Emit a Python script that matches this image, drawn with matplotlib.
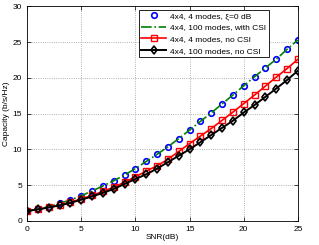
import matplotlib
matplotlib.use("Agg")
import matplotlib.pyplot as plt
import numpy as np

plt.rcParams['font.family'] = ['Liberation Sans', 'DejaVu Sans']

# Datos
snr_db = list(range(0, 26))
cap_4modes_xi0 = [1.35, 1.65, 1.97, 2.45, 2.9, 3.5, 4.17, 4.87, 5.6, 6.4, 7.3, 8.3, 9.3,
                  10.35, 11.5, 12.7, 13.9, 15.1, 16.35, 17.6, 18.9, 20.15, 21.4, 22.6, 24.0, 25.3]
cap_100modes_csi = [1.35, 1.65, 1.97, 2.45, 2.9, 3.5, 4.17, 4.87, 5.6, 6.4, 7.3, 8.3, 9.3,
                    10.35, 11.5, 12.7, 13.9, 15.1, 16.35, 17.6, 18.9, 20.15, 21.4, 22.6, 24.0, 25.3]
cap_4modes_nocsi = [1.35, 1.6, 1.87, 2.2, 2.6, 3.05, 3.55, 4.1, 4.7, 5.4, 6.15, 6.95, 7.7,
                    8.6, 9.7, 10.8, 11.85, 12.9, 14.05, 15.2, 16.4, 17.6, 18.85, 20.1, 21.3, 22.6]
cap_100modes_nocsi = [1.35, 1.6, 1.85, 2.15, 2.5, 2.95, 3.4, 3.9, 4.45, 5.15, 5.85, 6.5, 7.3,
                      8.2, 9.1, 10.0, 11.0, 12.0, 13.0, 14.0, 15.15, 16.2, 17.35, 18.5, 19.7, 21.0]
etiquetas = ["4x4, 4 modes, \u03be=0 dB", "4x4, 100 modes, with CSI",
             "4x4, 4 modes, no CSI", "4x4, 100 modes, no CSI"]

fig = plt.figure(figsize=(3.19, 2.45), dpi=100)
ax = fig.add_axes([0.085, 0.099, 0.849, 0.875])

ax.plot(snr_db, cap_4modes_xi0, linestyle='none', marker='o', markersize=4,
        markerfacecolor='none', markeredgecolor='blue', markeredgewidth=1.2, label=etiquetas[0])
ax.plot(snr_db, cap_100modes_csi, linestyle='-.', color='green', linewidth=1.2, label=etiquetas[1])
ax.plot(snr_db, cap_4modes_nocsi, '-', color='red', marker='s', markersize=4,
        markerfacecolor='none', markeredgewidth=1.0, linewidth=1.2, label=etiquetas[2])
ax.plot(snr_db, cap_100modes_nocsi, '-', color='black', marker='d', markersize=4.5,
        markerfacecolor='none', markeredgewidth=1.2, linewidth=1.4, label=etiquetas[3])

ax.set_xlim(0, 25)
ax.set_ylim(0, 30)
ax.set_xticks(range(0, 26, 5))
ax.set_yticks(range(0, 31, 5))
ax.tick_params(labelsize=6, direction='in', length=3, width=0.5, top=True, right=True)
ax.set_xlabel("SNR(dB)", fontsize=6, labelpad=1)
ax.set_ylabel("Capacity (b/s/Hz)", fontsize=6, labelpad=2)
ax.grid(True, linestyle=':', color='#999999', linewidth=0.6)
for s in ax.spines.values():
    s.set_linewidth(0.6)

leg = ax.legend(loc='upper right', bbox_to_anchor=(0.893, 0.985), fontsize=6,
                fancybox=False, framealpha=1, edgecolor='black', borderpad=0.3,
                labelspacing=0.45, handlelength=3.0, handletextpad=0.5, borderaxespad=0)
leg.get_frame().set_linewidth(0.6)

fig.savefig("out.png", dpi=100)
